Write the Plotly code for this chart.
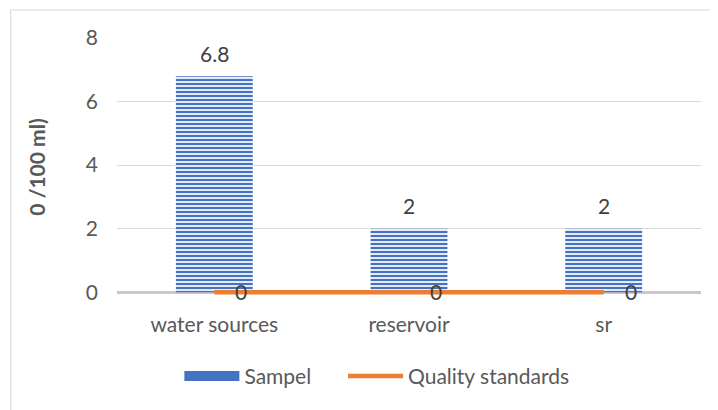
import plotly.graph_objects as go

categories = ["water sources", "reservoir", "sr"]
sample_values = [6.8, 2, 2]
standard_values = [0, 0, 0]
y_ticks = [0, 2, 4, 6, 8]

FONT = "Lato"
TXT = "#595959"
LBL = "#404040"
FS = 21

fig = go.Figure()
fig.add_trace(go.Bar(
    x=categories, y=sample_values, name="Sampel", width=0.395, showlegend=False,
    marker=dict(color="#E4EBF7", line=dict(width=0),
                pattern=dict(shape="-", fgcolor="#4472C4", bgcolor="#E4EBF7",
                             size=4, solidity=0.5, fillmode="replace")),
))
for c, v in zip(categories, sample_values):
    fig.add_annotation(x=c, y=v, text=f"{v:g}", showarrow=False, yshift=23,
                       font=dict(size=FS, color=LBL, family=FONT))
# legend swatch for the bar series
fig.add_trace(go.Scatter(
    x=[None], y=[None], name="Sampel&nbsp;&nbsp;&nbsp;&nbsp;&nbsp;", mode="lines",
    line=dict(color="#4472C4", width=12),
))
fig.add_trace(go.Scatter(
    x=categories, y=standard_values, name="Quality standards", mode="lines",
    line=dict(color="#ED7D31", width=4.5),
))
for c, v in zip(categories, standard_values):
    fig.add_annotation(x=c, y=v, text=f"{v:g}", showarrow=False, xshift=27, yshift=1,
                       font=dict(size=FS, color=LBL, family=FONT))

fig.add_shape(type="rect", xref="paper", yref="paper", x0=-0.182, x1=1.03, y0=-0.5, y1=1.1086,
              line=dict(color="#D9D9D9", width=1), fillcolor="rgba(0,0,0,0)", layer="below")

fig.update_layout(
    width=718, height=410, autosize=False,
    margin=dict(l=108.5, r=24.5, t=30, b=122.2),
    paper_bgcolor="white", plot_bgcolor="white",
    font=dict(family=FONT, size=FS, color=TXT),
    bargap=0.6, showlegend=True,
    legend=dict(orientation="h", x=0.445, xanchor="center", y=-0.311, yanchor="middle",
                font=dict(size=FS, color=TXT), itemwidth=55, traceorder="normal"),
    xaxis=dict(showgrid=False, showline=False,
               ticks="", ticklabelstandoff=14, tickfont=dict(size=FS, color=TXT)),
    yaxis=dict(range=[-0.12, 8], tickvals=y_ticks, showgrid=True, gridcolor="#D9D9D9", gridwidth=1,
               zeroline=True, zerolinecolor="#C8C8C8", zerolinewidth=2.5,
               showline=False, ticks="", ticklabelstandoff=18,
               tickfont=dict(size=FS, color=TXT),
               title=dict(text="<b>0 /100 ml)</b>", font=dict(size=21, color=TXT), standoff=34)),
)

fig.write_html("out.html")
